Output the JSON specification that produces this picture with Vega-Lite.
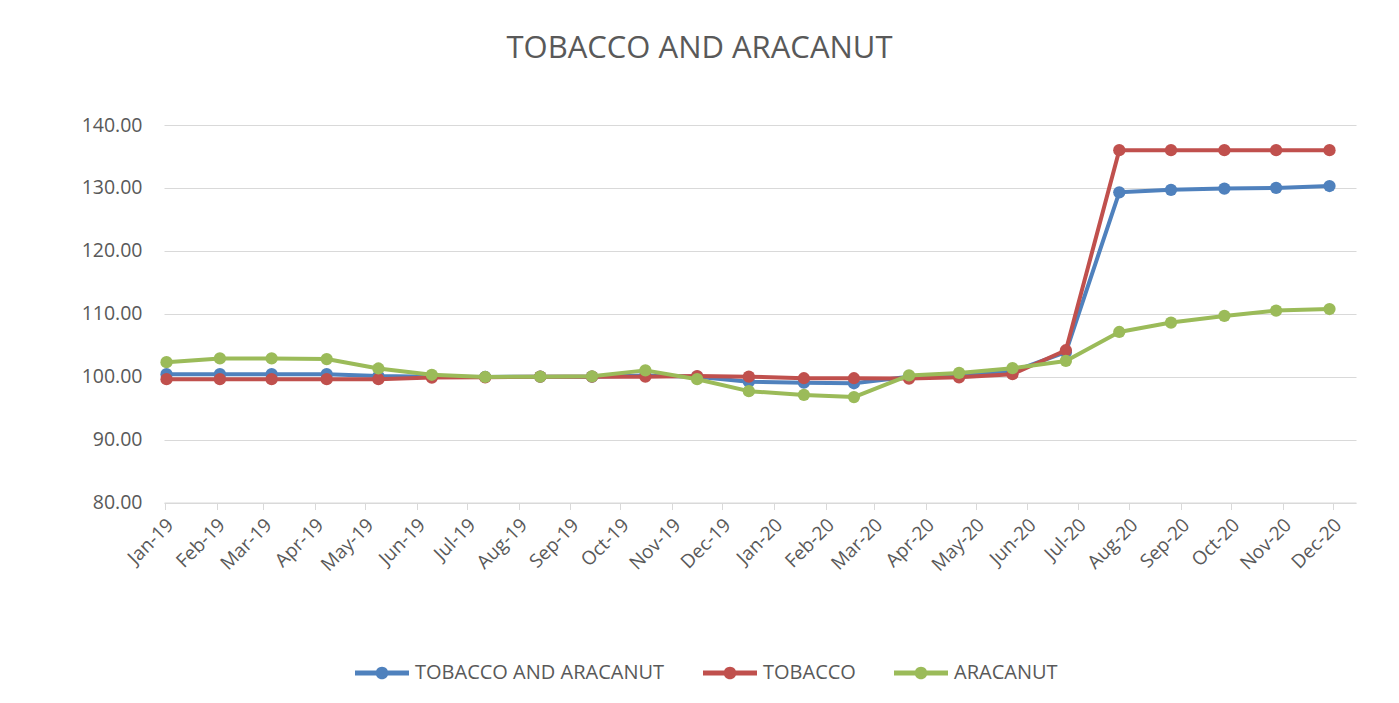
{
  "$schema": "https://vega.github.io/schema/vega-lite/v6.json",
  "width": 1192,
  "height": 377.5,
  "autosize": {"type": "none"},
  "padding": {"left": 164, "top": 125, "right": 43, "bottom": 200},
  "background": "white",
  "title": {
    "text": "TOBACCO AND ARACANUT",
    "font": "Open Sans",
    "fontSize": 31,
    "fontWeight": "normal",
    "color": "#595959",
    "anchor": "middle",
    "frame": "group",
    "dx": -60.5,
    "baseline": "alphabetic",
    "offset": 26
  },
  "data": {
    "values": [
      {"d": "2019-01-02", "s": "TOBACCO AND ARACANUT", "v": 100.4},
      {"d": "2019-02-03", "s": "TOBACCO AND ARACANUT", "v": 100.4},
      {"d": "2019-03-06", "s": "TOBACCO AND ARACANUT", "v": 100.4},
      {"d": "2019-04-08", "s": "TOBACCO AND ARACANUT", "v": 100.4},
      {"d": "2019-05-09", "s": "TOBACCO AND ARACANUT", "v": 100.1},
      {"d": "2019-06-10", "s": "TOBACCO AND ARACANUT", "v": 100.0},
      {"d": "2019-07-12", "s": "TOBACCO AND ARACANUT", "v": 99.95},
      {"d": "2019-08-14", "s": "TOBACCO AND ARACANUT", "v": 100.0},
      {"d": "2019-09-14", "s": "TOBACCO AND ARACANUT", "v": 100.0},
      {"d": "2019-10-16", "s": "TOBACCO AND ARACANUT", "v": 100.2},
      {"d": "2019-11-16", "s": "TOBACCO AND ARACANUT", "v": 100.0},
      {"d": "2019-12-17", "s": "TOBACCO AND ARACANUT", "v": 99.2},
      {"d": "2020-01-19", "s": "TOBACCO AND ARACANUT", "v": 99.05},
      {"d": "2020-02-18", "s": "TOBACCO AND ARACANUT", "v": 98.95},
      {"d": "2020-03-22", "s": "TOBACCO AND ARACANUT", "v": 100.0},
      {"d": "2020-04-21", "s": "TOBACCO AND ARACANUT", "v": 100.3},
      {"d": "2020-05-23", "s": "TOBACCO AND ARACANUT", "v": 100.8},
      {"d": "2020-06-24", "s": "TOBACCO AND ARACANUT", "v": 103.9},
      {"d": "2020-07-26", "s": "TOBACCO AND ARACANUT", "v": 129.3},
      {"d": "2020-08-26", "s": "TOBACCO AND ARACANUT", "v": 129.7},
      {"d": "2020-09-27", "s": "TOBACCO AND ARACANUT", "v": 129.9},
      {"d": "2020-10-28", "s": "TOBACCO AND ARACANUT", "v": 130.0},
      {"d": "2020-11-29", "s": "TOBACCO AND ARACANUT", "v": 130.3},
      {"d": "2019-01-02", "s": "TOBACCO", "v": 99.6},
      {"d": "2019-02-03", "s": "TOBACCO", "v": 99.6},
      {"d": "2019-03-06", "s": "TOBACCO", "v": 99.6},
      {"d": "2019-04-08", "s": "TOBACCO", "v": 99.6},
      {"d": "2019-05-09", "s": "TOBACCO", "v": 99.6},
      {"d": "2019-06-10", "s": "TOBACCO", "v": 99.85},
      {"d": "2019-07-12", "s": "TOBACCO", "v": 99.9},
      {"d": "2019-08-14", "s": "TOBACCO", "v": 100.0},
      {"d": "2019-09-14", "s": "TOBACCO", "v": 100.0},
      {"d": "2019-10-16", "s": "TOBACCO", "v": 100.0},
      {"d": "2019-11-16", "s": "TOBACCO", "v": 100.1},
      {"d": "2019-12-17", "s": "TOBACCO", "v": 100.0},
      {"d": "2020-01-19", "s": "TOBACCO", "v": 99.75},
      {"d": "2020-02-18", "s": "TOBACCO", "v": 99.75},
      {"d": "2020-03-22", "s": "TOBACCO", "v": 99.7},
      {"d": "2020-04-21", "s": "TOBACCO", "v": 99.9},
      {"d": "2020-05-23", "s": "TOBACCO", "v": 100.4},
      {"d": "2020-06-24", "s": "TOBACCO", "v": 104.2},
      {"d": "2020-07-26", "s": "TOBACCO", "v": 136.0},
      {"d": "2020-08-26", "s": "TOBACCO", "v": 136.0},
      {"d": "2020-09-27", "s": "TOBACCO", "v": 136.0},
      {"d": "2020-10-28", "s": "TOBACCO", "v": 136.0},
      {"d": "2020-11-29", "s": "TOBACCO", "v": 136.0},
      {"d": "2019-01-02", "s": "ARACANUT", "v": 102.3},
      {"d": "2019-02-03", "s": "ARACANUT", "v": 102.9},
      {"d": "2019-03-06", "s": "ARACANUT", "v": 102.9},
      {"d": "2019-04-08", "s": "ARACANUT", "v": 102.8},
      {"d": "2019-05-09", "s": "ARACANUT", "v": 101.3},
      {"d": "2019-06-10", "s": "ARACANUT", "v": 100.3},
      {"d": "2019-07-12", "s": "ARACANUT", "v": 99.95},
      {"d": "2019-08-14", "s": "ARACANUT", "v": 100.0},
      {"d": "2019-09-14", "s": "ARACANUT", "v": 100.05},
      {"d": "2019-10-16", "s": "ARACANUT", "v": 101.0},
      {"d": "2019-11-16", "s": "ARACANUT", "v": 99.6},
      {"d": "2019-12-17", "s": "ARACANUT", "v": 97.7},
      {"d": "2020-01-19", "s": "ARACANUT", "v": 97.1},
      {"d": "2020-02-18", "s": "ARACANUT", "v": 96.75},
      {"d": "2020-03-22", "s": "ARACANUT", "v": 100.2},
      {"d": "2020-04-21", "s": "ARACANUT", "v": 100.6},
      {"d": "2020-05-23", "s": "ARACANUT", "v": 101.35},
      {"d": "2020-06-24", "s": "ARACANUT", "v": 102.5},
      {"d": "2020-07-26", "s": "ARACANUT", "v": 107.1},
      {"d": "2020-08-26", "s": "ARACANUT", "v": 108.6},
      {"d": "2020-09-27", "s": "ARACANUT", "v": 109.65},
      {"d": "2020-10-28", "s": "ARACANUT", "v": 110.5},
      {"d": "2020-11-29", "s": "ARACANUT", "v": 110.75}
    ]
  },
  "encoding": {
    "x": {
      "field": "d",
      "type": "temporal",
      "scale": {
        "type": "utc",
        "domain": [
          {"year": 2018, "month": 12, "date": 31, "hours": 12, "utc": true},
          {"year": 2020, "month": 12, "date": 14, "hours": 21, "utc": true}
        ]
      },
      "axis": {
        "title": null,
        "grid": false,
        "tickCount": {"interval": "month", "step": 1},
        "labelExpr": "utcFormat(datum.value, '%b-%y')",
        "labelAngle": -45,
        "labelAlign": "right",
        "labelBaseline": "middle",
        "labelPadding": 12,
        "labelOffset": 5,
        "labelFont": "Open Sans",
        "labelFontSize": 19,
        "labelColor": "#595959",
        "labelOverlap": false,
        "labelFlush": false,
        "labelBound": false,
        "domainColor": "#D9D9D9",
        "domainWidth": 1,
        "ticks": true,
        "tickColor": "#D9D9D9",
        "tickSize": 7,
        "tickWidth": 1
      }
    },
    "y": {
      "field": "v",
      "type": "quantitative",
      "scale": {"domain": [80, 140], "nice": false, "zero": false},
      "axis": {
        "title": null,
        "values": [80, 90, 100, 110, 120, 130, 140],
        "format": ".2f",
        "grid": true,
        "gridColor": "#D9D9D9",
        "gridWidth": 1,
        "domain": false,
        "ticks": false,
        "labelPadding": 22,
        "labelFont": "Open Sans",
        "labelFontSize": 19.5,
        "labelColor": "#595959"
      }
    },
    "color": {
      "field": "s",
      "type": "nominal",
      "scale": {
        "domain": ["TOBACCO AND ARACANUT", "TOBACCO", "ARACANUT"],
        "range": ["#4F81BD", "#C0504D", "#9BBB59"]
      },
      "legend": {
        "title": null,
        "orient": "none",
        "direction": "horizontal",
        "legendX": 191,
        "legendY": 521,
        "padding": 0,
        "symbolType": "M-1,-0.09L1,-0.09L1,0.09L-1,0.09Z M-0.235,0A0.235,0.235,0,1,1,0.235,0A0.235,0.235,0,1,1,-0.235,0Z",
        "symbolSize": 2916,
        "symbolStrokeWidth": 0,
        "labelFont": "Open Sans",
        "labelFontSize": 20,
        "labelColor": "#595959",
        "labelOffset": 6,
        "columnPadding": 38,
        "labelLimit": 400,
        "encode": {
          "symbols": {
            "update": {
              "fill": {"scale": "color", "field": "value"},
              "fillOpacity": {"value": 1},
              "opacity": {"value": 1},
              "strokeWidth": {"value": 0}
            }
          }
        }
      }
    }
  },
  "layer": [
    {"transform": [{"filter": "datum.s === 'TOBACCO AND ARACANUT'"}], "mark": {"type": "line", "strokeWidth": 4, "strokeCap": "round", "strokeJoin": "round"}},
    {"transform": [{"filter": "datum.s === 'TOBACCO AND ARACANUT'"}], "mark": {"type": "circle", "size": 150, "opacity": 1}},
    {"transform": [{"filter": "datum.s === 'TOBACCO'"}], "mark": {"type": "line", "strokeWidth": 4, "strokeCap": "round", "strokeJoin": "round"}},
    {"transform": [{"filter": "datum.s === 'TOBACCO'"}], "mark": {"type": "circle", "size": 150, "opacity": 1}},
    {"transform": [{"filter": "datum.s === 'ARACANUT'"}], "mark": {"type": "line", "strokeWidth": 4, "strokeCap": "round", "strokeJoin": "round"}},
    {"transform": [{"filter": "datum.s === 'ARACANUT'"}], "mark": {"type": "circle", "size": 150, "opacity": 1}}
  ],
  "config": {
    "view": {"stroke": null},
    "font": "Open Sans"
  }
}
